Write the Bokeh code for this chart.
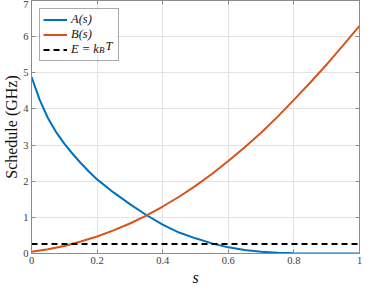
from bokeh.plotting import figure
from bokeh.models import Range1d, FixedTicker, LinearAxis, Legend, LegendItem, Label, BoxAnnotation
from bokeh.embed import file_html
from bokeh.resources import INLINE

# ---- data ----
s_a = [0.0, 0.025, 0.05, 0.075, 0.1, 0.125, 0.15, 0.175, 0.2, 0.25, 0.3, 0.35, 0.4,
       0.45, 0.5, 0.55, 0.6, 0.65, 0.7, 0.75, 0.8, 0.85, 0.9, 0.95, 1.0]
a_vals = [4.89, 4.25, 3.75, 3.36, 3.04, 2.76, 2.505, 2.27, 2.05, 1.69, 1.365, 1.065, 0.80,
          0.58, 0.42, 0.28, 0.17, 0.095, 0.048, 0.02, 0.007, 0.002, 0.0005, 0.0001, 0.0]

s_b = [0.0, 0.05, 0.1, 0.15, 0.2, 0.25, 0.3, 0.35, 0.4, 0.45, 0.5, 0.55, 0.6, 0.65,
       0.7, 0.75, 0.8, 0.85, 0.9, 0.95, 1.0]
b_vals = [0.05, 0.12, 0.21, 0.33, 0.47, 0.64, 0.83, 1.05, 1.30, 1.57, 1.87, 2.2, 2.56,
          2.94, 3.34, 3.78, 4.25, 4.73, 5.23, 5.76, 6.3]

kbt_level = 0.26
kbt_s = [s_b[0], s_b[-1]]
kbt_vals = [kbt_level, kbt_level]

x_ticks = [0, 0.2, 0.4, 0.6, 0.8, 1]
x_tick_labels = ["0", "0.2", "0.4", "0.6", "0.8", "1"]
y_ticks = [0, 1, 2, 3, 4, 5, 6, 7]

SERIF = "Liberation Serif"
TICK_COL = "#3a3a3a"
AX_COL = "#8a8a8a"

p = figure(width=366, height=288, output_backend="svg", toolbar_location=None,
           x_range=Range1d(0, 1), y_range=Range1d(0, 7),
           min_border_left=25, min_border_right=7, min_border_top=0, min_border_bottom=0)
p.background_fill_color = "white"
p.border_fill_color = "white"
p.outline_line_color = AX_COL
p.outline_line_width = 1

# grid
p.xgrid.ticker = FixedTicker(ticks=x_ticks)
p.ygrid.ticker = FixedTicker(ticks=y_ticks)
for g in (p.xgrid, p.ygrid):
    g.grid_line_color = "#e3e3e3"
    g.grid_line_width = 1

# main axes
xa = p.xaxis[0]
xa.ticker = FixedTicker(ticks=x_ticks)
xa.major_label_overrides = {t: l for t, l in zip(x_ticks, x_tick_labels)}
ya = p.yaxis[0]
ya.ticker = FixedTicker(ticks=y_ticks)
for ax in (xa, ya):
    ax.axis_line_color = AX_COL
    ax.major_tick_line_color = AX_COL
    ax.major_tick_in = 4
    ax.major_tick_out = 0
    ax.minor_tick_in = 0
    ax.minor_tick_out = 0
    ax.minor_tick_line_color = None
    ax.major_label_text_font = SERIF
    ax.major_label_text_font_size = "10.5px"
    ax.major_label_text_color = TICK_COL
    ax.axis_label_text_font = SERIF
    ax.axis_label_text_color = "#111111"
xa.axis_label = "s"
xa.axis_label_text_font_style = "italic"
xa.axis_label_text_font_size = "16px"
xa.major_label_standoff = 3
xa.axis_label_standoff = 2
ya.axis_label = "Schedule (GHz)"
ya.axis_label_text_font_style = "normal"
ya.axis_label_text_font_size = "16px"
ya.major_label_standoff = 3
ya.axis_label_standoff = 0

# box axes (ticks only) on top and right
top = LinearAxis(ticker=FixedTicker(ticks=x_ticks))
right = LinearAxis(ticker=FixedTicker(ticks=y_ticks))
for ax in (top, right):
    ax.axis_line_color = AX_COL
    ax.major_tick_line_color = AX_COL
    ax.major_tick_in = 4
    ax.major_tick_out = 0
    ax.minor_tick_in = 0
    ax.minor_tick_out = 0
    ax.minor_tick_line_color = None
    ax.major_label_text_font_size = "1px"
    ax.major_label_text_color = None
    ax.major_label_standoff = 0
p.add_layout(top, "above")
p.add_layout(right, "right")

# white backing behind the (transparent) legend so overlay texts stay visible
p.add_layout(BoxAnnotation(left=0.0276, right=0.2607, top=6.743, bottom=5.514,
                           fill_color="white", fill_alpha=1, line_color=None,
                           level="underlay"))

# lines
ra = p.line(s_a, a_vals, line_color="#0072BD", line_width=2)
rb = p.line(s_b, b_vals, line_color="#D95319", line_width=2)
re = p.line(kbt_s, kbt_vals, line_color="black", line_width=2, line_dash="6 4")

legend = Legend(items=[LegendItem(label="A(s)", renderers=[ra]),
                       LegendItem(label="B(s)", renderers=[rb]),
                       LegendItem(label="E = k", renderers=[re])],
                location="top_left")
legend.margin = 8
legend.padding = 3
legend.spacing = 0
legend.glyph_width = 24
legend.glyph_height = 13
legend.label_height = 13
legend.label_width = 44
legend.label_standoff = 4
legend.label_text_font = SERIF
legend.label_text_font_style = "italic"
legend.label_text_font_size = "12.5px"
legend.label_text_color = "#111111"
legend.border_line_color = "#555555"
legend.border_line_width = 1
legend.background_fill_alpha = 0
p.add_layout(legend)

# subscript B and trailing T of "E = k_B T"
p.add_layout(Label(x=0.2055, y=5.63, text="B", text_font=SERIF, text_font_style="italic",
                   text_font_size="9px", text_color="#111111", text_baseline="middle"))
p.add_layout(Label(x=0.2255, y=5.729, text="T", text_font=SERIF, text_font_style="italic",
                   text_font_size="12.5px", text_color="#111111", text_baseline="middle"))

open("out.html", "w").write(file_html(p, INLINE))
